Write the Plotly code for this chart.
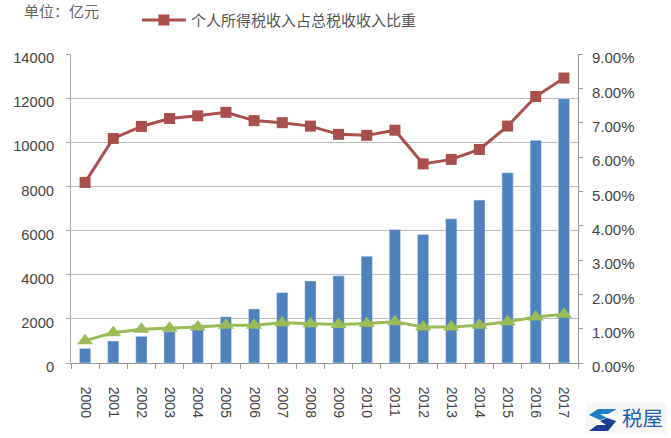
import plotly.graph_objects as go

years = [str(y) for y in range(2000, 2018)]

# individual income tax, 100m yuan
tax_revenue = [660, 995, 1210, 1420, 1730, 2090, 2450, 3190, 3720, 3950, 4840, 6050, 5820, 6530, 7380, 8620, 10090, 11970]
# share of total tax revenue
tax_share = [0.0526, 0.0654, 0.0689, 0.0712, 0.0720, 0.0730, 0.0706, 0.0700, 0.0690, 0.0666, 0.0663, 0.0678, 0.0580, 0.0593, 0.0622, 0.0690, 0.0776, 0.0830]
# green line
gdp_share = [0.0065, 0.0088, 0.0098, 0.0101, 0.0105, 0.0110, 0.0110, 0.0117, 0.0114, 0.0112, 0.0115, 0.0120, 0.0105, 0.0105, 0.0110, 0.0120, 0.0134, 0.0142]

left_ticks = [0, 2000, 4000, 6000, 8000, 10000, 12000, 14000]
right_ticks = [0, 0.01, 0.02, 0.03, 0.04, 0.05, 0.06, 0.07, 0.08, 0.09]

fig = go.Figure()

# bars
fig.add_trace(go.Bar(x=years, y=tax_revenue, marker_color='#4F81BD', showlegend=False))

# lines on right axis
fig.add_trace(go.Scatter(x=years, y=tax_share, mode='lines+markers', yaxis='y2',
                         name='个人所得税收入占总税收收入比重',
                         line=dict(color='#A94F4D', width=3),
                         marker=dict(symbol='square', size=11, color='#A94F4D')))
fig.add_trace(go.Scatter(x=years, y=gdp_share, mode='lines+markers', yaxis='y2', showlegend=False,
                         line=dict(color='#9BBB59', width=3),
                         marker=dict(symbol='triangle-up', size=14, color='#9BBB59')))

font = 'Liberation Sans, Noto Sans CJK SC'

fig.update_layout(
    width=671, height=438,
    margin=dict(l=71, r=93, t=54, b=75, autoexpand=False),
    paper_bgcolor='white', plot_bgcolor='white',
    bargap=0.6,
    font=dict(family=font, size=15, color='#444444'),
    xaxis=dict(type='category', range=[-0.5, 17.5], tickangle=90, tickson='boundaries', ticks='outside', ticklen=5,
               tickcolor='#999999', linecolor='#999999', showline=True, showgrid=False,
               ticklabelstandoff=20, tickfont=dict(size=14)),
    yaxis=dict(range=[0, 14000], tickvals=left_ticks, tickformat='d', ticks='outside', ticklen=4, tickcolor='#aaaaaa',
               showline=True, linecolor='#aaaaaa', gridcolor='#bbbbbb', gridwidth=1, zeroline=False,
               ticklabelshift=4, ticklabelstandoff=9, tickfont=dict(size=14.7)),
    yaxis2=dict(range=[0, 0.09], tickvals=right_ticks, tickformat='.2%', overlaying='y', side='right',
                ticks='outside', ticklen=4, tickcolor='#999999', showline=True, linecolor='#999999',
                showgrid=False, zeroline=False, ticklabelshift=4, ticklabelstandoff=6),
    legend=dict(x=0.13, y=1.163, xanchor='left', yanchor='top', font=dict(size=15, color='#555555'),
                bgcolor='rgba(0,0,0,0)', itemwidth=44),
)

fig.add_annotation(text='单位：亿元', xref='paper', yref='paper', x=-0.097, y=1.103, xanchor='left',
                   yanchor='bottom', showarrow=False, font=dict(size=15, color='#666666'))


# watermark logo, pixel outlines converted to paper coords
def logo_path(points):
    parts = ['%.4f %.4f' % ((px - 71) / 507, (363 - py) / 309) for px, py in points]
    return 'M ' + ' L '.join(parts) + ' Z'


logo_upper = [(589, 415), (598, 409), (617, 409), (608, 414), (600, 414), (607, 418), (600, 420)]
logo_lower = [(616, 421), (608, 431), (589, 431), (597, 425), (606, 425), (600, 421), (607, 418)]

fig.add_shape(type='rect', xref='paper', yref='paper', x0=(586 - 71) / 507, x1=(667 - 71) / 507,
              y0=(363 - 434) / 309, y1=(363 - 403) / 309, fillcolor='#F7F7F7', line_width=0)
fig.add_shape(type='path', xref='paper', yref='paper', path=logo_path(logo_upper), fillcolor='#1E7FC4', line_width=0)
fig.add_shape(type='path', xref='paper', yref='paper', path=logo_path(logo_lower), fillcolor='#1A3F8F', line_width=0)
fig.add_annotation(text='税屋', xref='paper', yref='paper', x=1.083, y=-0.178, xanchor='left',
                   yanchor='middle', showarrow=False, font=dict(size=20.5, color='#1F62B5'))

# browser default body margin would shift the plot
fig.write_html("out.html", config=dict(displayModeBar=False), post_script="document.body.style.margin='0';")
